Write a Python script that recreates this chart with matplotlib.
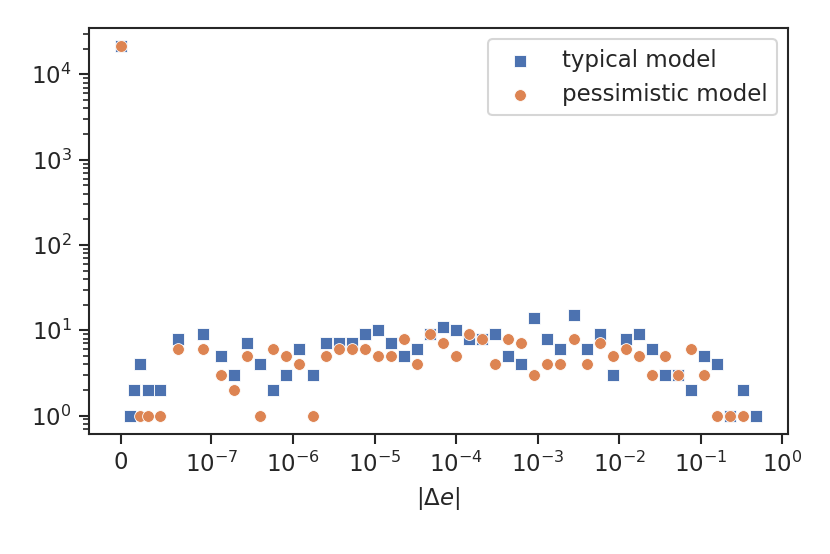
import numpy as np
import matplotlib
matplotlib.use('Agg')
import matplotlib.pyplot as plt
import matplotlib.ticker as mticker
import seaborn as sns

# log10 of the bin positions (the first point sits at exactly 0)
log_de = [-8.00, -7.84, -7.68, -7.52, -7.36, -7.20, -7.04, -6.88, -6.72, -6.56,
          -6.40, -6.24, -6.08, -5.92, -5.76, -5.60, -5.44, -5.28, -5.12, -4.96,
          -4.80, -4.64, -4.48, -4.32, -4.16, -4.00, -3.84, -3.68, -3.52, -3.36,
          -3.20, -3.04, -2.88, -2.72, -2.56, -2.40, -2.24, -2.08, -1.92, -1.76,
          -1.60, -1.44, -1.28, -1.12, -0.96, -0.80, -0.64, -0.48, -0.32]

zero_count_typical = 21200
zero_count_pessimistic = 21200

typical = [1, 2, 4, 2, 2, 8, 9, 5, 3, 7,
           4, 2, 3, 6, 3, 7, 7, 7, 9, 10,
           7, 5, 6, 9, 11, 10, 8, 8, 9, 5,
           4, 14, 8, 6, 15, 6, 9, 3, 8, 9,
           6, 3, 3, 2, 5, 4, 1, 2, 1]

pessimistic = [0, 0, 1, 1, 1, 6, 6, 3, 2, 5,
               1, 6, 5, 4, 1, 5, 6, 6, 6, 5,
               5, 8, 4, 9, 7, 5, 9, 8, 4, 8,
               7, 3, 4, 4, 8, 4, 7, 5, 6, 5,
               3, 5, 3, 6, 3, 1, 1, 1, 0]

labels = ['typical model', 'pessimistic model']


sns.set_theme(style='ticks')
plt.rcParams['font.family'] = ['DejaVu Sans']
plt.rcParams['mathtext.fontset'] = 'dejavusans'

x = np.concatenate([[0.0], 10.0 ** np.array(log_de)])
y_typ = np.array([zero_count_typical] + typical, dtype=float)
y_pes = np.array([zero_count_pessimistic] + pessimistic, dtype=float)
# empty bins are not drawn on a log axis
m_typ = y_typ > 0
m_pes = y_pes > 0

fig = plt.figure(figsize=(830 / 150, 554 / 150), dpi=150)
ax = fig.add_axes([89 / 830, 1 - 434 / 554, (788 - 89) / 830, (434 - 28) / 554])

ax.scatter(x[m_typ], y_typ[m_typ], marker='s', s=30, color='#4C72B0',
           edgecolor='w', linewidths=0.4, label=labels[0], zorder=3)
ax.scatter(x[m_pes], y_pes[m_pes], marker='o', s=32, color='#DD8452',
           edgecolor='w', linewidths=0.4, label=labels[1], zorder=3)

ax.set_xscale('symlog', linthresh=1e-7, linscale=1)
ax.set_yscale('log')
ax.xaxis.set_major_locator(mticker.FixedLocator([0] + [10.0 ** k for k in range(-7, 1)]))
ax.xaxis.set_minor_locator(mticker.NullLocator())

ax.set_xlabel(r'$|\Delta e|$', fontsize=11)
ax.tick_params(axis='both', which='major', labelsize=11, length=4.8, width=1.0, color='.15')
ax.tick_params(axis='both', which='minor', length=3.0, width=0.8, color='.15')
for sp in ax.spines.values():
    sp.set_linewidth(1.0)
    sp.set_color('.15')

ax.legend(loc='upper right', fontsize=11, frameon=True)

fig.savefig('out.png', dpi=150)
